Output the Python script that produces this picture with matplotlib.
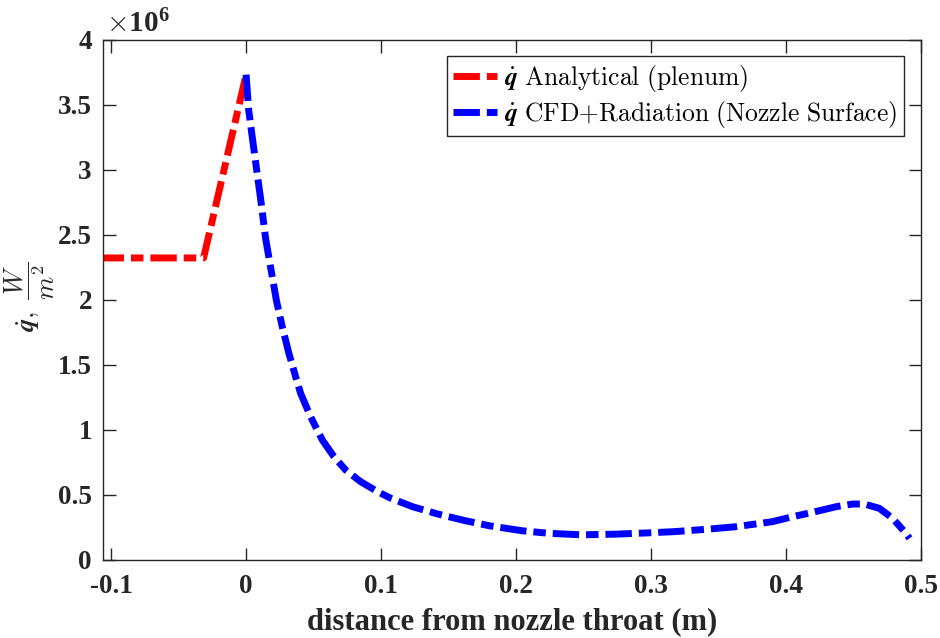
import io
import matplotlib
matplotlib.use('Agg')
import matplotlib.pyplot as plt
from matplotlib import mathtext
import numpy as np

# ---------------- data (heat flux in units of 1e6 W/m^2) ----------------
red_x = [-0.11, -0.0315, 0.0]
red_y = [2.32, 2.32, 3.73]

blue_x = [0.0, 0.0019, 0.0052, 0.0082, 0.0112, 0.0143, 0.0181, 0.0225, 0.0268,
          0.0317, 0.0367, 0.0404, 0.0478, 0.0565, 0.0651, 0.0738, 0.085,
          0.0974, 0.1073, 0.1234, 0.142, 0.1618, 0.18, 0.204, 0.2238, 0.2486,
          0.2733, 0.298, 0.318, 0.34, 0.3625, 0.3898, 0.4047, 0.4196, 0.4369,
          0.4493, 0.458, 0.4691, 0.479, 0.4889, 0.4915]
blue_y = [3.73, 3.458, 3.20, 2.97, 2.74, 2.48, 2.25, 1.99, 1.79,
          1.586, 1.406, 1.278, 1.098, 0.919, 0.791, 0.688, 0.598,
          0.522, 0.471, 0.406, 0.35, 0.30, 0.26, 0.222, 0.202, 0.19,
          0.195, 0.205, 0.215, 0.232, 0.252, 0.291, 0.329, 0.363, 0.406,
          0.427, 0.427, 0.394, 0.317, 0.2, 0.163]

x_ticks = [-0.1, 0, 0.1, 0.2, 0.3, 0.4, 0.5]
x_ticklabels = ['-0.1', '0', '0.1', '0.2', '0.3', '0.4', '0.5']
y_ticks = [0, 0.5, 1, 1.5, 2, 2.5, 3, 3.5, 4]
y_ticklabels = ['0', '0.5', '1', '1.5', '2', '2.5', '3', '3.5', '4']
scale = 1e6

label_red = 'Analytical (plenum)'
label_blue = 'CFD{+}Radiation (Nozzle Surface)'

# ---------------- style ----------------
plt.rcParams['font.family'] = ['Liberation Serif', 'DejaVu Serif']
plt.rcParams['mathtext.fontset'] = 'cm'
plt.rcParams['axes.unicode_minus'] = False


def mt_ok(s):
    try:
        mathtext.math_to_image(s, io.BytesIO(), format='png')
        return True
    except Exception:
        return False


Q = r'\dot{\mathbfit{q}}' if mt_ok(r'$\dot{\mathbfit{q}}$') else r'\dot{\mathbf{q}}'
FRAC = r'\dfrac{W}{m^2}' if mt_ok(r'$\dfrac{W}{m^2}$') else r'\frac{W}{m^2}'


def leg_label(t):
    return r'$' + Q + r'\ \mathrm{' + t.replace(' ', r'\ ') + '}$'


dark = '#262626'
fig = plt.figure(figsize=(9.4, 6.38), dpi=100)
ax = fig.add_axes([0.1096, 0.123, 0.8702, 0.815])

lw = 5.0
dash = (0, (3.8, 1.0, 1.8, 1.0))
ax.plot(red_x, np.array(red_y) * scale, color='#ff0000', lw=lw, linestyle=dash,
        dash_capstyle='butt', dash_joinstyle='round', label=leg_label(label_red))
ax.plot(blue_x, np.array(blue_y) * scale, color='#0000ff', lw=lw, linestyle=dash,
        dash_capstyle='butt', dash_joinstyle='round', label=leg_label(label_blue))

ax.set_xlim(-0.106, 0.5)
ax.set_ylim(0, 4 * scale)
ax.set_xticks(x_ticks)
ax.set_xticklabels(x_ticklabels)
ax.set_yticks(np.array(y_ticks) * scale)
ax.set_yticklabels(y_ticklabels)

ax.tick_params(direction='in', length=9, width=1.0, colors=dark,
               top=True, right=True, labelsize=19.5)
ax.tick_params(axis='x', pad=10.5)
ax.tick_params(axis='y', pad=8)
for lab in ax.get_xticklabels() + ax.get_yticklabels():
    lab.set_fontweight('bold')
for sp in ax.spines.values():
    sp.set_color(dark)
    sp.set_linewidth(1.0)

ax.set_xlabel('distance from nozzle throat (m)', fontsize=22, fontweight='bold',
              color=dark, labelpad=5.5)
ax.set_ylabel(r'$' + Q + r',\ ' + FRAC + '$', fontsize=19, color=dark)
ax.yaxis.set_label_coords(-0.056, 0.505)

fig.text(0.113, 0.95, r'$\times\mathdefault{10^{6}}$', fontsize=21, color=dark,
         fontweight='bold', ha='left', va='baseline')

leg = ax.legend(loc='upper right', bbox_to_anchor=(0.979, 0.968), fontsize=18.4,
                frameon=True, fancybox=False, edgecolor=dark, framealpha=1,
                handlelength=1.7, handletextpad=0.3, borderpad=0.25,
                labelspacing=0.2, borderaxespad=0)
leg.get_frame().set_linewidth(1.0)

fig.savefig('out.png', dpi=100)
